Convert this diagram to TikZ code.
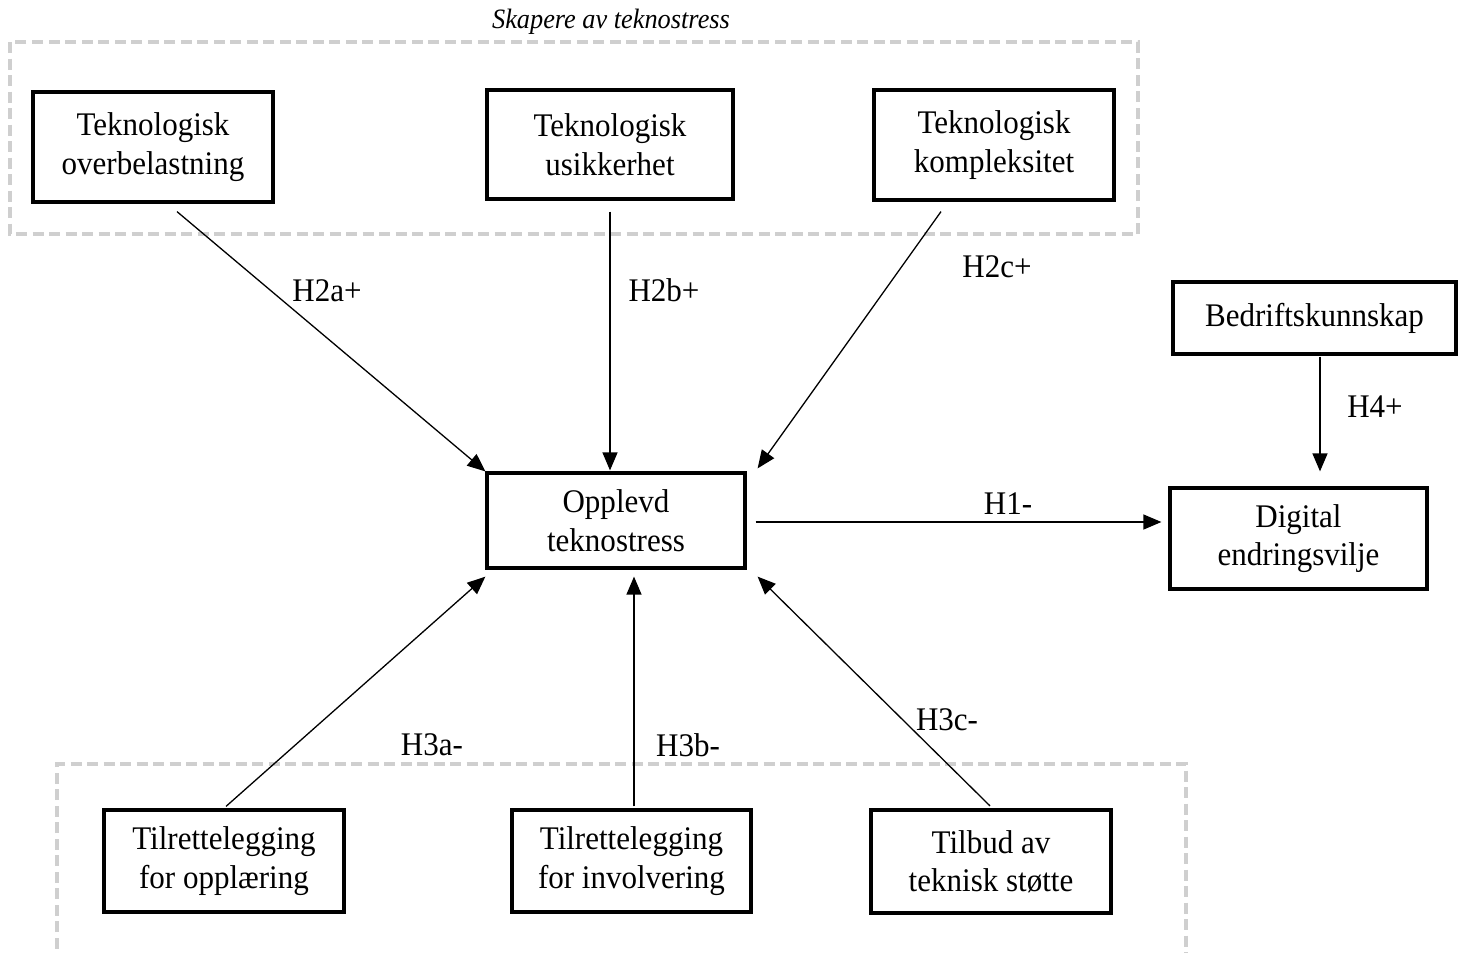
\documentclass[tikz,border=0pt]{standalone}
\usepackage{fontspec}
\setmainfont{Liberation Serif}[FakeStretch=0.94]
\usetikzlibrary{arrows.meta,calc}
\tikzset{
 box/.style={draw, line width=3.2pt, align=center, inner sep=0pt, font=\fontsize{33}{38.5}\selectfont},
 arr/.style={line width=1.3pt, -{Triangle[length=18pt,width=15pt]}},
 lbl/.style={font=\fontsize{33}{38}\selectfont, inner sep=0pt},
 grp/.style={draw=black!19, line width=3.8pt, dash pattern=on 11pt off 5.5pt},
}
\begin{document}
\begin{tikzpicture}[x=1pt,y=-1pt]
\useasboundingbox (0,0) rectangle (1462,953);
\clip (0,0) rectangle (1462,953);
\draw[grp] (10,42) rectangle (1138,234);
\draw[grp] (57,965) -- (57,764) -- (1186,764) -- (1186,965);
\node[font=\fontsize{28}{30}\selectfont\itshape, inner sep=0pt] (title) at (611,22) {Skapere av teknostress};
\node[box, minimum width=240pt, minimum height=110pt] (b1) at (153,147) {Teknologisk\\overbelastning};
\node[box, minimum width=246pt, minimum height=109pt] (b2) at (610,144.5) {Teknologisk\\usikkerhet};
\node[box, minimum width=240pt, minimum height=110pt] (b3) at (994,145) {Teknologisk\\kompleksitet};
\node[box, minimum width=258pt, minimum height=95pt] (op) at (616,520.5) {Opplevd\\teknostress};
\node[box, minimum width=283pt, minimum height=72pt] (bed) at (1314.5,318) {Bedriftskunnskap};
\node[box, minimum width=257pt, minimum height=101pt] (dig) at (1298.5,538.5) {Digital\\endringsvilje};
\node[box, minimum width=240pt, minimum height=102pt] (t1) at (224,861) {Tilrettelegging\\for opplæring};
\node[box, minimum width=239pt, minimum height=102pt] (t2) at (631.5,861) {Tilrettelegging\\for involvering};
\node[box, minimum width=240pt, minimum height=103pt] (t3) at (991,861.5) {Tilbud av\\teknisk støtte};
\draw[arr] ($(b1.south)+(24,8)$) -- (op.north west);
\draw[arr] ($(b2.south)+(0,11)$) -- ($(op.north)+(-6,-1)$);
\draw[arr] ($(b3.south)+(-53,10)$) -- ($(op.north east)+(11,-3)$);
\draw[arr] ($(op.east)+(9,1.5)$) -- ($(dig.west)+(-7,-16.5)$);
\draw[arr] ($(bed.south)+(5.5,1)$) -- ($(dig.north)+(21.5,-15)$);
\draw[arr] ($(t1.north)+(2,-2)$) -- ($(op.south west)+(0,7)$);
\draw[arr] ($(t2.north)+(2.5,-2)$) -- ($(op.south)+(18,7)$);
\draw[arr] ($(t3.north)+(-1,-2.5)$) -- ($(op.south east)+(11,7)$);
\node[lbl] (l2a) at (327,291) {H2a+};
\node[lbl] (l2b) at (664,290) {H2b+};
\node[lbl] (l2c) at (997,267) {H2c+};
\node[lbl] (l1) at (1008,504) {H1-};
\node[lbl] (l4) at (1375,407) {H4+};
\node[lbl] (l3a) at (432,745) {H3a-};
\node[lbl] (l3b) at (688,745) {H3b-};
\node[lbl] (l3c) at (947,720) {H3c-};
\end{tikzpicture}
\end{document}
